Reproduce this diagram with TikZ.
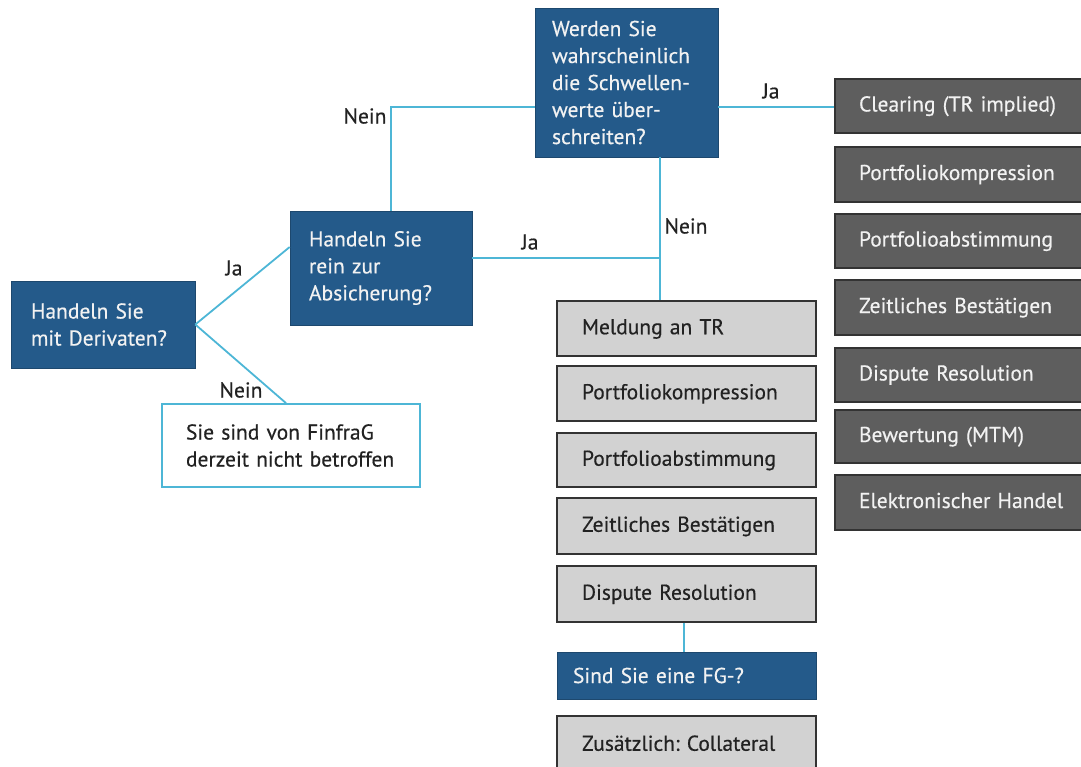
\documentclass[tikz,border=0pt]{standalone}
\usepackage{fontspec}
\setmainfont{PT Sans}[FakeBold=0.4]
\frenchspacing
\definecolor{dblue}{HTML}{245A8A}
\definecolor{cyanl}{HTML}{4DB6D6}
\definecolor{lgray}{HTML}{D2D2D2}
\definecolor{dgray}{HTML}{5E5E5E}
\definecolor{bord}{HTML}{333333}
\definecolor{txtd}{HTML}{222222}
\definecolor{txtl}{HTML}{F2F2F2}
\begin{document}
\begin{tikzpicture}[x=1pt,y=-1pt,
  every node/.style={font=\fontsize{21.5}{27}\selectfont},
  qbox/.style={rectangle, fill=dblue, draw=dblue!80!black, line width=0.6pt, text=txtl, align=left, inner ysep=0pt},
  gbox/.style={rectangle, fill=lgray, draw=bord, line width=1.6pt, text=txtd, align=left, inner ysep=0pt, minimum width=259pt, text width=209pt, inner xsep=25pt, text height=15pt, text depth=3.5pt},
  rbox/.style={rectangle, fill=dgray, draw=bord, line width=1.6pt, text=txtl, align=left, inner ysep=0pt, minimum width=255pt, text width=207pt, inner xsep=24pt, text height=15pt, text depth=4pt},
  wbox/.style={rectangle, fill=white, draw=cyanl, line width=1.8pt, text=txtd, align=left, inner ysep=0pt},
  conn/.style={draw=cyanl, line width=1.8pt},
  lbl/.style={text=txtd, inner sep=0pt}]
\useasboundingbox (0,0) rectangle (1081,767);
\clip (0,0) rectangle (1081,767);

% question boxes
\node[qbox, minimum width=184pt, minimum height=87pt, text width=144pt, inner xsep=20pt] (A) at (103,324.5) {Handeln Sie\\mit Derivaten?};
\node[qbox, minimum width=182pt, minimum height=114pt, text width=144pt, inner xsep=19pt] (B) at (381,268) {Handeln Sie\\rein zur\\Absicherung?};
\node[wbox, minimum width=258pt, minimum height=83pt, text width=210pt, inner xsep=24pt] (C) at (291,445.5) {Sie sind von FinfraG\\derzeit nicht betroffen};
\node[qbox, minimum width=183pt, minimum height=149pt, text width=149pt, inner xsep=17pt] (D) at (626.5,82.5) {Werden Sie\\wahrscheinlich\\die Schwellen-\\werte über-\\schreiten?};

% middle column
\node[gbox, minimum height=55pt] (M1) at (686.5,328.5) {Meldung an TR};
\node[gbox, minimum height=55pt] (M2) at (686.5,393.5) {Portfoliokompression};
\node[gbox, minimum height=54pt] (M3) at (686.5,460) {Portfolioabstimmung};
\node[gbox, minimum height=56pt] (M4) at (686.5,526) {Zeitliches Bestätigen};
\node[gbox, minimum height=56pt] (M5) at (686.5,594) {Dispute Resolution};
\node[qbox, minimum width=259pt, minimum height=47pt, text width=227pt, inner xsep=16pt] (FG) at (686.5,675.5) {Sind Sie eine FG-?};
\node[gbox, minimum height=58pt] (M6) at (686.5,745) {Zusätzlich: Collateral};

% right column
\node[rbox, minimum height=54pt] (R1) at (962.5,106) {Clearing (TR implied)};
\node[rbox, minimum height=55pt] (R2) at (962.5,174.5) {Portfoliokompression};
\node[rbox, minimum height=54pt] (R3) at (962.5,241) {Portfolioabstimmung};
\node[rbox, minimum height=55pt] (R4) at (962.5,307.5) {Zeitliches Bestätigen};
\node[rbox, minimum height=54pt] (R5) at (962.5,375) {Dispute Resolution};
\node[rbox, minimum height=53pt] (R6) at (962.5,436.5) {Bewertung (MTM)};
\node[rbox, minimum height=55pt] (R7) at (962.5,502.5) {Elektronischer Handel};

% connectors
\coordinate (dx) at ([xshift=33.5pt]D.south);
\draw[conn] (A.east) -- ([yshift=21pt]B.west);
\draw[conn] (A.east) -- ([xshift=-5pt]C.north);
\draw[conn] ([xshift=10pt]B.north) |- ([yshift=-24.5pt]D.west);
\draw[conn] ([yshift=-24.5pt]D.east) -- ([yshift=-24.5pt]D.east -| R1.west);
\draw[conn] (dx) -- (dx |- M1.north);
\draw[conn] ([yshift=10pt]B.east) -- ([yshift=10pt]B.east -| dx);
\draw[conn] ([xshift=-2.5pt]M5.south) -- ([xshift=-2.5pt]FG.north);

% labels
\node[lbl] (l1) at (234,268) {Ja};
\node[lbl] (l2) at (241,390) {Nein};
\node[lbl] (l3) at (365,116) {Nein};
\node[lbl] (l4) at (771,91) {Ja};
\node[lbl] (l5) at (530,242) {Ja};
\node[lbl] (l6) at (686,226) {Nein};
\end{tikzpicture}
\end{document}
